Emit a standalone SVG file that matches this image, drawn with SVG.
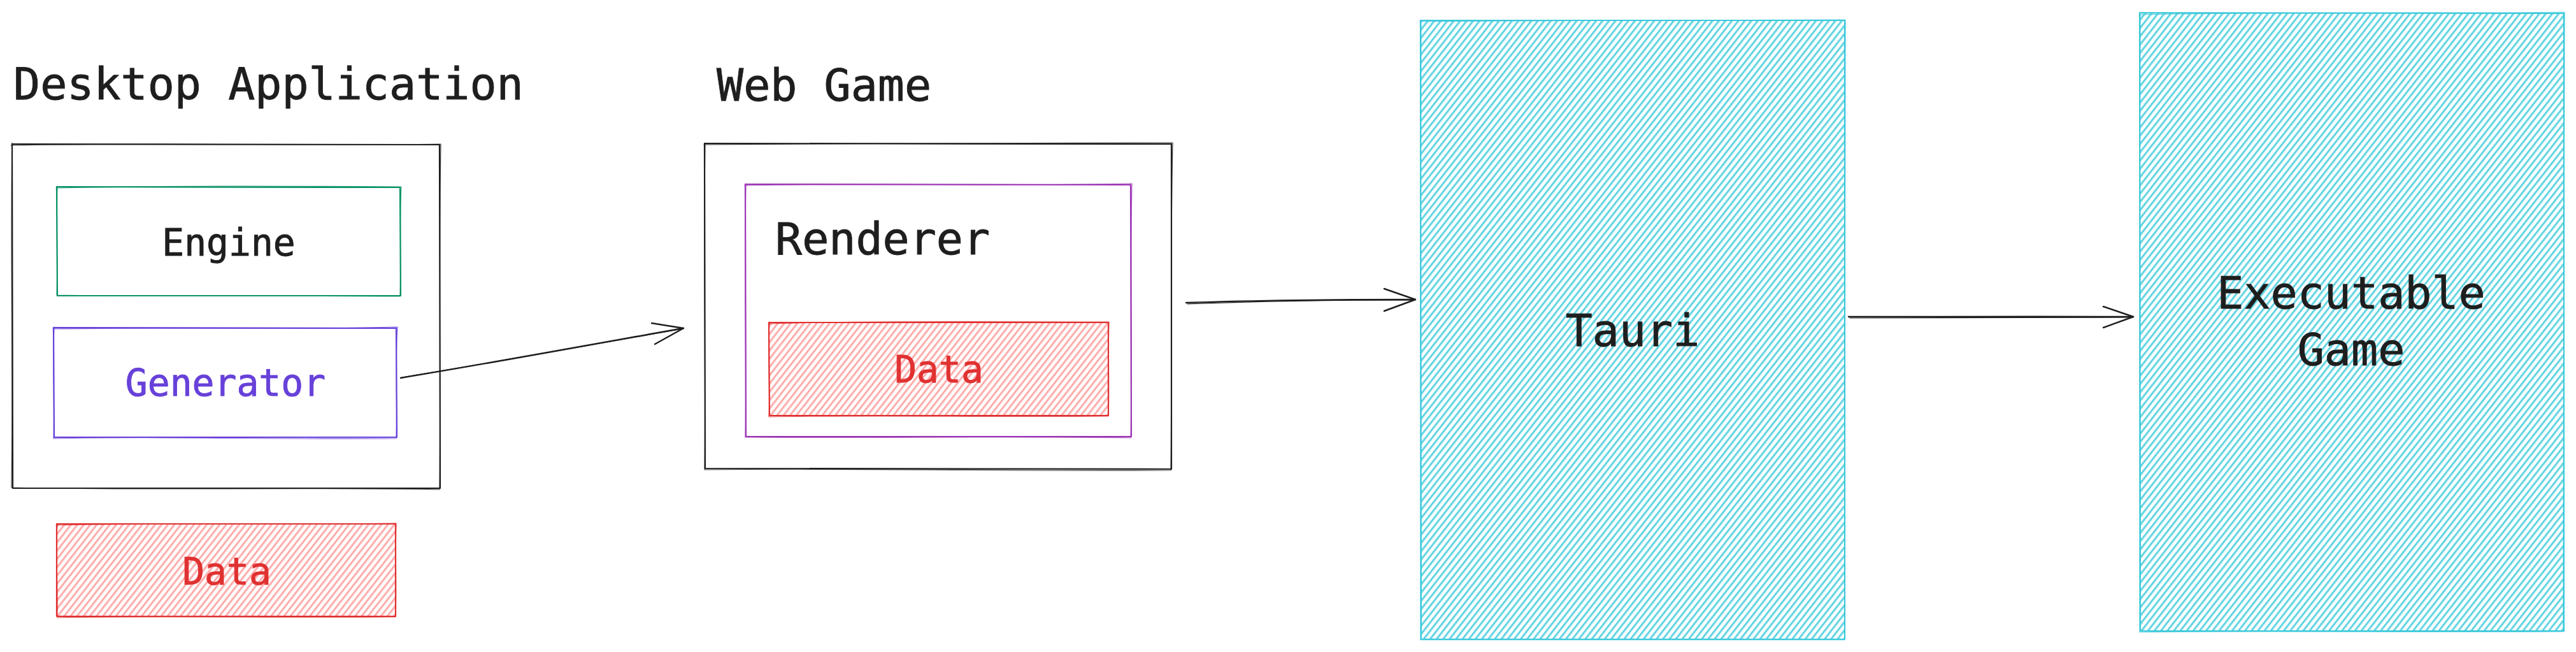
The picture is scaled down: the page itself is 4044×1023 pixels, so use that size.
<svg xmlns="http://www.w3.org/2000/svg" width="4044" height="1023" viewBox="0 0 4044 1023">
<style>
  .t { font-family: "DejaVu Sans Mono", "Liberation Mono", monospace; fill: #1e1e1e; stroke: #1e1e1e; stroke-width: 0.9; }
  .big { font-size: 70px; }
  .small { font-size: 58px; }
  .mid { text-anchor: middle; }
  .vio { fill: #6741d9; stroke: #6741d9; }
  .rd { fill: #e03131; stroke: #e03131; }
  .s1 { fill: none; stroke-width: 2.2; stroke-linecap: round; stroke-linejoin: round; }
  .s2 { fill: none; stroke-width: 1.2; stroke-linecap: round; stroke-linejoin: round; opacity: 0.85; }
  .k { stroke: #1e1e1e; }
  .green { stroke: #099268; }
  .violet { stroke: #6741d9; }
  .purple { stroke: #9c36b5; }
  .red { stroke: #e03131; }
  .cyan { stroke: #3bc9db; }
  .arrow { fill: none; stroke: #1e1e1e; stroke-width: 2.4; stroke-linecap: round; stroke-linejoin: round; }
  .arrow2 { fill: none; stroke: #1e1e1e; stroke-width: 1.2; stroke-linecap: round; }
</style>
<defs>
  <pattern id="hachRed" patternUnits="userSpaceOnUse" width="24" height="8" patternTransform="rotate(-52)">
    <line x1="0" y1="2" x2="24" y2="2" stroke="#ff8787" stroke-width="1.4"/>
    <line x1="0" y1="3.7" x2="24" y2="3.7" stroke="#ff8787" stroke-width="0.9" opacity="0.85"/>
  </pattern>
  <pattern id="hachCyan" patternUnits="userSpaceOnUse" width="24" height="8" patternTransform="rotate(-52)">
    <line x1="0" y1="2" x2="24" y2="2" stroke="#3bc9db" stroke-width="1.6"/>
    <line x1="0" y1="3.7" x2="24" y2="3.7" stroke="#3bc9db" stroke-width="1.0" opacity="0.9"/>
  </pattern>
</defs>
<rect x="0" y="0" width="4044" height="1023" fill="#ffffff"/>

<g id="desktop-title">
  <text class="t big" x="21" y="156">Desktop Application</text>
</g>

<g id="desktop-app">
  <path class="s1 k" d="M19 226 L690 227 L691 766 L20 766 Z"/>
  <path class="s2 k" d="M17 228 C250 224 480 229 692 226 C689 400 692 600 690 768 C450 764 220 770 18 765 C21 560 16 400 19 224"/>
</g>

<g id="engine">
  <path class="s1 green" d="M89 293 L628 294 L629 464 L90 464 Z"/>
  <path class="s2 green" d="M88 295 C270 291 450 292 630 293 C627 350 630 410 628 465 C450 463 270 466 89 463 C91 410 88 350 90 292"/>
  <text class="t small mid" x="359" y="401">Engine</text>
</g>

<g id="generator">
  <path class="s1 violet" d="M84 514 L622 515 L623 686 L85 686 Z"/>
  <path class="s2 violet" d="M83 516 C260 513 440 518 624 513 C620 570 624 630 622 688 C440 690 260 684 84 688 C86 630 82 570 85 513"/>
  <text class="t small mid vio" x="354" y="621">Generator</text>
</g>

<g id="data-desktop">
  <rect x="89" y="822" width="532" height="145" fill="url(#hachRed)"/>
  <path class="s1 red" d="M89 822 L621 822 L621 967 L89 967 Z"/>
  <path class="s2 red" d="M88 824 C270 820 450 823 622 821 C620 870 623 920 621 968 C450 970 270 966 90 969 C91 920 87 870 90 821"/>
  <text class="t small mid rd" x="356" y="917">Data</text>
</g>

<g id="web-game-title">
  <text class="t big" x="1125" y="158">Web Game</text>
</g>

<g id="web-game">
  <path class="s1 k" d="M1106 225 L1839 226 L1839 736 L1107 735 Z"/>
  <path class="s2 k" d="M1105 227 C1350 224 1600 226 1841 224 C1837 400 1840 570 1838 738 C1600 740 1350 734 1106 737 C1108 560 1104 400 1107 224"/>
</g>

<g id="renderer">
  <path class="s1 purple" d="M1170 289 L1775 290 L1776 685 L1171 685 Z"/>
  <path class="s2 purple" d="M1169 291 C1370 287 1570 292 1777 288 C1774 420 1778 560 1775 687 C1570 684 1370 688 1170 686 C1172 560 1168 420 1171 288"/>
  <text class="t big" x="1217" y="399">Renderer</text>
</g>

<g id="data-web">
  <rect x="1207" y="506" width="533" height="146" fill="url(#hachRed)"/>
  <path class="s1 red" d="M1207 506 L1740 506 L1740 652 L1208 652 Z"/>
  <path class="s2 red" d="M1206 508 C1380 503 1560 505 1741 505 C1739 555 1742 605 1740 653 C1560 655 1380 651 1207 654 C1209 605 1205 555 1208 505"/>
  <text class="t small mid rd" x="1474" y="600">Data</text>
</g>

<g id="tauri">
  <rect x="2230" y="32" width="666" height="971" fill="url(#hachCyan)"/>
  <path class="s1 cyan" d="M2230 32 L2896 32 L2896 1003 L2231 1003 Z"/>
  <path class="s2 cyan" d="M2229 34 C2450 31 2670 33 2897 31 C2895 350 2898 700 2896 1004 C2670 1006 2450 1002 2230 1004 C2232 700 2228 350 2231 31"/>
  <text class="t big mid" x="2563" y="543">Tauri</text>
</g>

<g id="executable-game">
  <rect x="3359" y="20" width="666" height="970" fill="url(#hachCyan)"/>
  <path class="s1 cyan" d="M3359 20 L4025 21 L4025 990 L3360 990 Z"/>
  <path class="s2 cyan" d="M3358 23 C3580 18 3800 22 4026 19 C4023 340 4027 680 4024 991 C3800 993 3580 989 3359 992 C3361 680 3357 340 3360 19"/>
  <text class="t big mid" x="3691" y="484">Executable</text>
  <text class="t big mid" x="3691" y="573">Game</text>
</g>

<g id="connectors">
  <g id="generator-to-webgame">
    <path class="arrow" d="M629 593 C780 568 930 540 1073 515"/>
    <path class="arrow2" d="M631 592 C790 566 940 539 1071 516"/>
    <path class="arrow" d="M1023 507 L1073 515 L1028 540"/>
  </g>
  <g id="webgame-to-tauri">
    <path class="arrow" d="M1862 475 C1980 471 2100 470 2222 470"/>
    <path class="arrow2" d="M1864 477 C1990 472 2110 471 2220 471"/>
    <path class="arrow" d="M2173 453 L2222 470 L2173 488"/>
  </g>
  <g id="tauri-to-executable">
    <path class="arrow" d="M2902 497 C3050 496 3200 497 3349 497"/>
    <path class="arrow2" d="M2904 499 C3060 498 3210 498 3347 498"/>
    <path class="arrow" d="M3302 481 L3349 497 L3302 514"/>
  </g>
</g>
</svg>
